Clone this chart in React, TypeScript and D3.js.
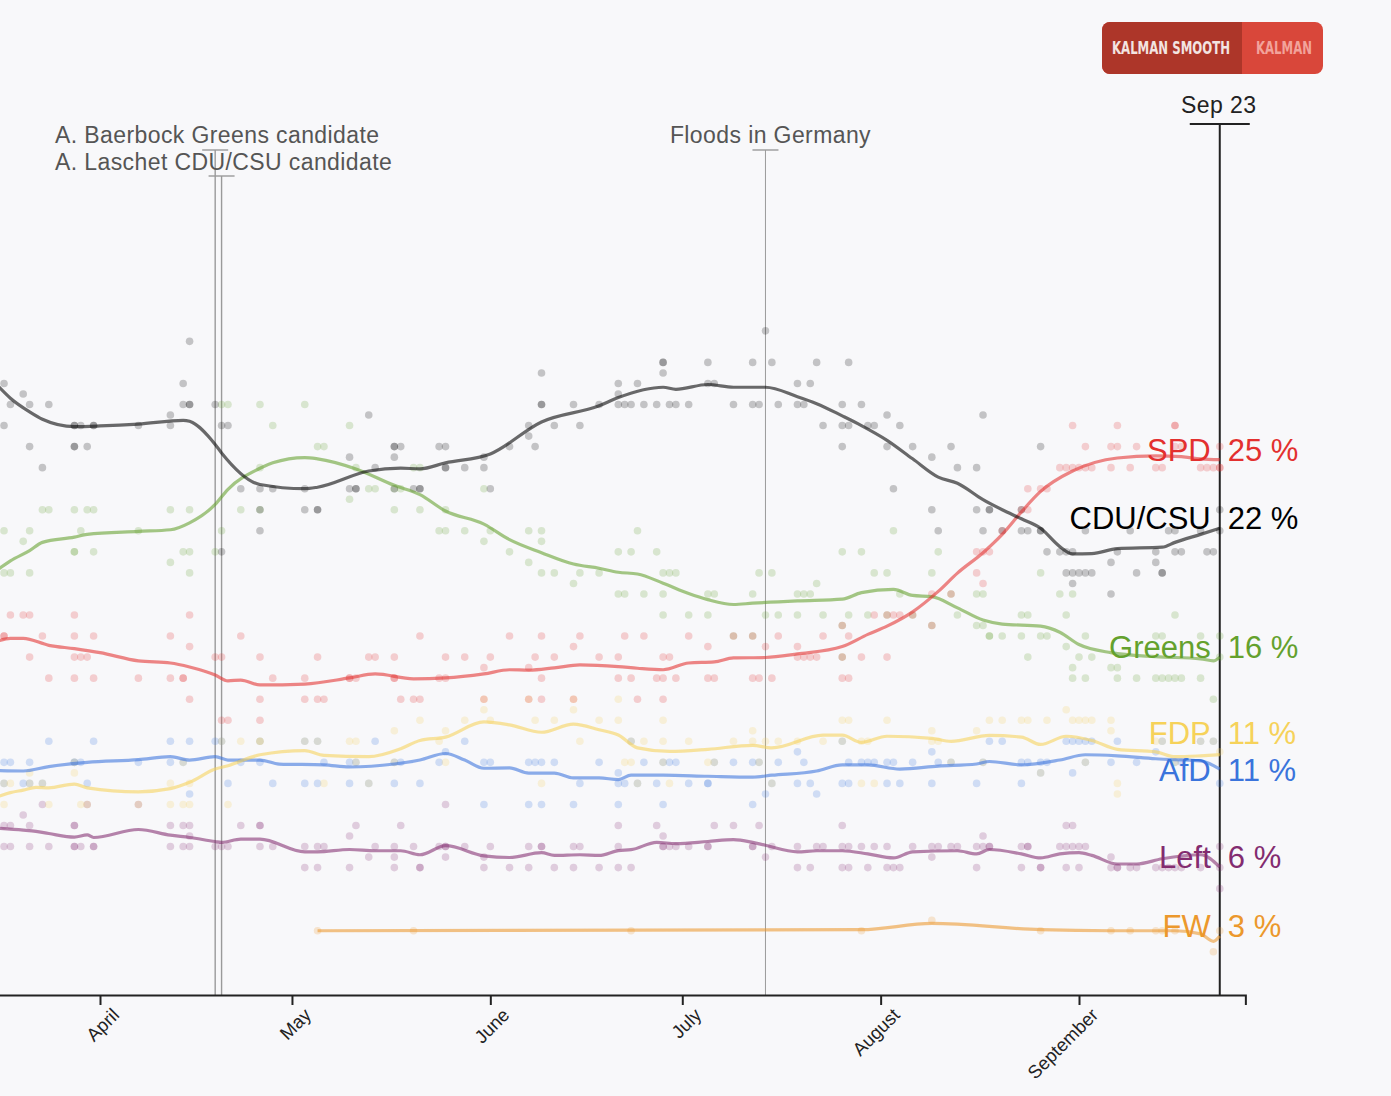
import * as d3 from "d3";
import { useEffect, useRef } from "react";

type Pt = [string, number];

// single polls, [date (2021), percent]
const cduPolls: Pt[] = [
  ["03-17", 29], ["03-17", 27], ["03-18", 28], ["03-20", 28.5], ["03-21", 28], ["03-21", 26], ["03-23", 25],
  ["03-24", 28], ["03-28", 27], ["03-28", 27], ["03-28", 26], ["03-28", 26], ["03-29", 27], ["03-30", 26],
  ["03-31", 27], ["03-31", 27], ["04-07", 27], ["04-12", 27.5], ["04-12", 27], ["04-14", 29], ["04-14", 28],
  ["04-15", 31], ["04-15", 28], ["04-15", 28], ["04-19", 28], ["04-20", 27], ["04-20", 21], ["04-21", 27],
  ["04-23", 24], ["04-26", 24], ["04-26", 23], ["04-26", 22], ["04-28", 24], ["05-03", 24], ["05-03", 23],
  ["05-05", 23], ["05-05", 23], ["05-10", 25.5], ["05-10", 24], ["05-11", 24], ["05-11", 24], ["05-13", 27.5],
  ["05-14", 25], ["05-17", 26], ["05-17", 26], ["05-17", 25.5], ["05-17", 24], ["05-18", 26], ["05-20", 24],
  ["05-21", 24], ["05-21", 24], ["05-24", 26], ["05-25", 26], ["05-25", 25], ["05-25", 25], ["05-28", 25],
  ["05-31", 25.5], ["05-31", 25], ["06-01", 24], ["06-04", 26], ["06-07", 27], ["06-07", 26.5], ["06-08", 26],
  ["06-09", 29.5], ["06-09", 28], ["06-09", 28], ["06-11", 27], ["06-14", 28], ["06-15", 27], ["06-18", 28],
  ["06-21", 29], ["06-21", 28.5], ["06-21", 28], ["06-22", 28], ["06-23", 28], ["06-24", 29], ["06-25", 28],
  ["06-27", 28], ["06-28", 30], ["06-28", 30], ["06-28", 29.5], ["06-29", 28], ["06-30", 28], ["07-02", 28],
  ["07-05", 30], ["07-05", 29], ["07-06", 29], ["07-09", 28], ["07-12", 30], ["07-12", 28], ["07-13", 28],
  ["07-14", 31.5], ["07-15", 30], ["07-16", 28], ["07-19", 29], ["07-19", 28], ["07-20", 28], ["07-21", 29],
  ["07-22", 30], ["07-23", 27], ["07-26", 28], ["07-26", 27], ["07-26", 26], ["07-27", 30], ["07-27", 27],
  ["07-29", 28], ["07-30", 27], ["07-31", 27], ["08-02", 27.5], ["08-02", 26], ["08-03", 24], ["08-04", 27],
  ["08-06", 26], ["08-09", 25.5], ["08-09", 23], ["08-10", 22], ["08-12", 26], ["08-13", 25], ["08-16", 25],
  ["08-16", 23], ["08-17", 27.5], ["08-17", 22], ["08-18", 23], ["08-18", 23], ["08-20", 22], ["08-23", 23],
  ["08-23", 22], ["08-24", 22], ["08-26", 26], ["08-26", 22], ["08-26", 22], ["08-27", 21], ["08-29", 21],
  ["08-30", 21], ["08-30", 20], ["08-31", 21], ["08-31", 20], ["08-31", 19.5], ["09-01", 20], ["09-02", 22],
  ["09-02", 20], ["09-03", 20], ["09-06", 20.5], ["09-06", 19], ["09-07", 21], ["09-09", 22], ["09-10", 20],
  ["09-13", 21], ["09-13", 20.5], ["09-14", 20], ["09-14", 20], ["09-15", 22], ["09-16", 22], ["09-16", 21],
  ["09-17", 21], ["09-20", 22], ["09-21", 21], ["09-22", 21], ["09-23", 23], ["09-23", 22],
];

const spdPolls: Pt[] = [
  ["03-17", 17], ["03-17", 17], ["03-18", 18], ["03-20", 18], ["03-21", 18], ["03-21", 16], ["03-23", 17],
  ["03-24", 15], ["03-28", 18], ["03-28", 17], ["03-28", 16], ["03-28", 15], ["03-29", 16], ["03-30", 16],
  ["03-31", 17], ["03-31", 15], ["04-07", 15], ["04-12", 17], ["04-12", 15], ["04-14", 15], ["04-14", 15],
  ["04-15", 18], ["04-15", 16.5], ["04-15", 14], ["04-19", 16], ["04-20", 16], ["04-20", 13], ["04-21", 13],
  ["04-23", 17], ["04-26", 16], ["04-26", 14], ["04-26", 13], ["04-28", 15], ["05-03", 15], ["05-03", 14],
  ["05-05", 16], ["05-05", 14], ["05-06", 14], ["05-10", 15], ["05-10", 15], ["05-11", 15], ["05-13", 16],
  ["05-14", 16], ["05-17", 16], ["05-17", 15], ["05-17", 15], ["05-18", 14], ["05-20", 14], ["05-21", 14],
  ["05-21", 17], ["05-24", 15], ["05-25", 15], ["05-25", 16], ["05-28", 16], ["05-31", 15.5], ["05-31", 14],
  ["06-01", 16], ["06-04", 17], ["06-07", 15.5], ["06-07", 14], ["06-08", 16], ["06-09", 17], ["06-09", 15],
  ["06-09", 14], ["06-11", 16], ["06-14", 16.5], ["06-14", 14], ["06-15", 17], ["06-18", 16], ["06-21", 16],
  ["06-21", 15], ["06-22", 17], ["06-23", 15], ["06-24", 14], ["06-25", 17], ["06-27", 15], ["06-28", 16],
  ["06-28", 15], ["06-28", 14], ["06-29", 16], ["06-30", 15], ["07-02", 17], ["07-05", 16.5], ["07-05", 15],
  ["07-06", 15], ["07-09", 17], ["07-12", 17], ["07-12", 15], ["07-13", 15], ["07-14", 16.5], ["07-15", 15],
  ["07-16", 17], ["07-19", 16.5], ["07-19", 16], ["07-20", 16], ["07-21", 16], ["07-22", 16], ["07-23", 17],
  ["07-26", 17.5], ["07-26", 16], ["07-26", 15], ["07-27", 17], ["07-27", 15], ["07-29", 16], ["07-31", 18],
  ["08-02", 18], ["08-02", 16], ["08-03", 18], ["08-04", 18], ["08-06", 18], ["08-09", 19], ["08-09", 17.5],
  ["08-12", 19], ["08-16", 21], ["08-16", 20], ["08-17", 21], ["08-17", 19.5], ["08-18", 21], ["08-20", 22],
  ["08-23", 23], ["08-24", 23], ["08-24", 24], ["08-26", 24], ["08-27", 24], ["08-29", 25], ["08-30", 25],
  ["08-31", 25], ["08-31", 27], ["09-01", 25], ["09-02", 25], ["09-02", 26], ["09-03", 25], ["09-06", 26],
  ["09-06", 25], ["09-07", 26], ["09-07", 27], ["09-09", 25], ["09-10", 26], ["09-13", 25], ["09-14", 25],
  ["09-16", 27], ["09-16", 27], ["09-16", 26], ["09-17", 26], ["09-20", 25], ["09-21", 25], ["09-22", 25],
  ["09-23", 25], ["09-23", 25], ["09-23", 26],
];

const greensPolls: Pt[] = [
  ["03-17", 22], ["03-17", 20], ["03-18", 20], ["03-20", 21.5], ["03-21", 22], ["03-21", 20], ["03-23", 23],
  ["03-24", 23], ["03-28", 23], ["03-28", 21], ["03-28", 21], ["03-29", 22], ["03-30", 23], ["03-31", 23],
  ["03-31", 21], ["04-07", 22], ["04-12", 23], ["04-12", 20.5], ["04-14", 21], ["04-15", 23], ["04-15", 21],
  ["04-15", 20], ["04-19", 21], ["04-20", 28], ["04-20", 22], ["04-21", 28], ["04-23", 23], ["04-26", 28],
  ["04-26", 25], ["04-26", 23], ["04-28", 27], ["05-03", 28], ["05-05", 26], ["05-06", 26], ["05-10", 27],
  ["05-10", 23.5], ["05-11", 25], ["05-13", 24], ["05-14", 24], ["05-17", 24], ["05-17", 23], ["05-18", 24],
  ["05-20", 25], ["05-21", 25], ["05-21", 23], ["05-24", 22], ["05-25", 23], ["05-25", 22], ["05-28", 22],
  ["05-31", 24], ["05-31", 21.5], ["06-01", 22], ["06-04", 21], ["06-07", 22], ["06-07", 20.5], ["06-09", 22],
  ["06-09", 21.5], ["06-09", 20], ["06-11", 20], ["06-14", 19.5], ["06-15", 20], ["06-18", 20], ["06-21", 21],
  ["06-21", 19], ["06-22", 19], ["06-23", 21], ["06-24", 22], ["06-25", 19], ["06-27", 21], ["06-28", 20],
  ["06-28", 19], ["06-28", 18], ["06-29", 20], ["06-30", 20], ["07-02", 18], ["07-05", 19], ["07-05", 18],
  ["07-06", 19], ["07-09", 17], ["07-12", 19], ["07-12", 17], ["07-13", 20], ["07-14", 18], ["07-15", 20],
  ["07-16", 18], ["07-19", 19], ["07-19", 18], ["07-20", 19], ["07-21", 19], ["07-22", 19.5], ["07-23", 18],
  ["07-26", 21], ["07-26", 17.5], ["07-26", 16], ["07-27", 18], ["07-29", 21], ["07-30", 18], ["07-31", 20],
  ["08-02", 20], ["08-02", 18], ["08-03", 22], ["08-04", 19], ["08-06", 18], ["08-09", 20], ["08-09", 17.5],
  ["08-10", 21], ["08-12", 19], ["08-13", 18], ["08-16", 19], ["08-16", 17.5], ["08-17", 19], ["08-17", 17.5],
  ["08-18", 17], ["08-18", 17], ["08-20", 17], ["08-23", 18], ["08-23", 17], ["08-24", 18], ["08-24", 16],
  ["08-26", 20], ["08-26", 17], ["08-27", 17], ["08-29", 19], ["08-30", 18], ["08-30", 16.5], ["08-31", 19],
  ["08-31", 15.5], ["08-31", 15], ["09-01", 16], ["09-02", 17], ["09-02", 15], ["09-03", 16], ["09-06", 15.5],
  ["09-07", 15.5], ["09-07", 15], ["09-10", 15], ["09-13", 17], ["09-13", 15], ["09-14", 17], ["09-14", 15],
  ["09-15", 15], ["09-16", 18], ["09-16", 15], ["09-17", 15], ["09-20", 17], ["09-20", 15], ["09-22", 14],
  ["09-23", 17], ["09-23", 16],
];

const fdpPolls: Pt[] = [
  ["03-17", 10], ["03-17", 9], ["03-18", 10], ["03-21", 10.5], ["03-21", 10], ["03-23", 10], ["03-24", 9],
  ["03-28", 11], ["03-28", 10.5], ["03-29", 9], ["03-30", 9], ["04-07", 9], ["04-12", 10], ["04-12", 9],
  ["04-14", 11], ["04-14", 9], ["04-15", 10], ["04-15", 9], ["04-20", 12], ["04-21", 9], ["04-23", 12],
  ["04-26", 12], ["04-26", 12], ["05-03", 12], ["05-05", 12], ["05-06", 10], ["05-10", 12], ["05-11", 12],
  ["05-11", 11], ["05-13", 10], ["05-17", 12.5], ["05-17", 11], ["05-21", 13], ["05-24", 12], ["05-25", 12.5],
  ["05-25", 11], ["05-28", 13], ["05-31", 13.5], ["05-31", 14], ["06-01", 13], ["06-07", 14], ["06-08", 13],
  ["06-09", 10], ["06-11", 13], ["06-14", 13.5], ["06-14", 14], ["06-15", 12], ["06-18", 13], ["06-21", 14],
  ["06-21", 13], ["06-22", 11], ["06-23", 12], ["06-23", 11], ["06-24", 10], ["06-25", 12], ["06-28", 13],
  ["06-28", 12], ["06-28", 11], ["06-29", 10], ["07-02", 12], ["07-05", 11], ["07-06", 11], ["07-09", 12],
  ["07-12", 12.5], ["07-12", 12], ["07-13", 11], ["07-14", 12], ["07-15", 10], ["07-16", 12], ["07-19", 12],
  ["07-23", 12], ["07-26", 13], ["07-26", 12], ["07-27", 13], ["07-29", 12], ["07-29", 10], ["07-30", 12],
  ["07-31", 10], ["08-02", 13], ["08-09", 12.5], ["08-09", 12], ["08-10", 12], ["08-12", 11], ["08-16", 12.5],
  ["08-17", 11], ["08-18", 13], ["08-20", 13], ["08-23", 13], ["08-24", 13], ["08-26", 10.5], ["08-27", 13],
  ["08-30", 13.5], ["08-31", 13], ["09-01", 13], ["09-02", 13], ["09-02", 11], ["09-03", 13], ["09-06", 13],
  ["09-06", 12.5], ["09-07", 10], ["09-07", 9.5], ["09-13", 12], ["09-14", 12], ["09-16", 11], ["09-20", 12],
  ["09-22", 12], ["09-23", 11.5],
];

const afdPolls: Pt[] = [
  ["03-17", 11], ["03-17", 10], ["03-18", 11], ["03-20", 10], ["03-21", 11], ["03-21", 10], ["03-23", 10],
  ["03-24", 12], ["03-28", 11], ["03-28", 11], ["03-29", 11], ["03-30", 10], ["03-31", 12], ["04-07", 11],
  ["04-12", 12], ["04-12", 11], ["04-14", 11], ["04-15", 12], ["04-15", 9.5], ["04-19", 12], ["04-20", 12],
  ["04-21", 10], ["04-23", 11], ["04-26", 12], ["04-26", 11], ["04-28", 10], ["05-03", 12], ["05-03", 10],
  ["05-05", 12], ["05-05", 10], ["05-06", 11], ["05-10", 11], ["05-10", 10], ["05-11", 11], ["05-13", 10],
  ["05-14", 12], ["05-17", 11], ["05-17", 10], ["05-18", 11], ["05-21", 10], ["05-24", 11], ["05-25", 11.5],
  ["05-28", 12], ["05-31", 11], ["05-31", 9], ["06-01", 11], ["06-07", 11], ["06-07", 9], ["06-08", 11],
  ["06-09", 11], ["06-09", 9], ["06-11", 11], ["06-14", 9], ["06-15", 10], ["06-18", 11], ["06-21", 10.5],
  ["06-21", 10], ["06-21", 9], ["06-22", 10], ["06-23", 12], ["06-24", 10], ["06-25", 11], ["06-27", 10],
  ["06-28", 11], ["06-28", 9], ["06-29", 11], ["06-30", 11], ["07-02", 10], ["07-05", 10], ["07-05", 10],
  ["07-06", 11], ["07-09", 11], ["07-12", 11], ["07-12", 9], ["07-13", 11], ["07-14", 9.5], ["07-15", 10],
  ["07-16", 11], ["07-19", 11.5], ["07-19", 10], ["07-20", 11], ["07-21", 10], ["07-22", 9.5], ["07-26", 12],
  ["07-26", 10], ["07-27", 11], ["07-27", 10], ["07-29", 11], ["07-30", 11], ["07-31", 11], ["08-02", 11],
  ["08-02", 10], ["08-03", 11], ["08-04", 10], ["08-06", 11], ["08-09", 11.5], ["08-09", 10], ["08-10", 11],
  ["08-12", 11], ["08-16", 10], ["08-17", 11], ["08-18", 12], ["08-20", 12], ["08-23", 11], ["08-23", 10],
  ["08-24", 11], ["08-26", 11], ["08-26", 10.5], ["08-27", 11], ["08-30", 12], ["08-31", 12], ["08-31", 10.5],
  ["09-01", 12], ["09-02", 12], ["09-02", 11], ["09-03", 12], ["09-06", 11], ["09-07", 12], ["09-10", 11],
  ["09-13", 11.5], ["09-14", 12], ["09-16", 11], ["09-17", 11], ["09-20", 12], ["09-22", 12], ["09-23", 10],
];

const leftPolls: Pt[] = [
  ["03-17", 8], ["03-17", 7], ["03-18", 8], ["03-18", 7], ["03-20", 8.5], ["03-21", 8], ["03-21", 7],
  ["03-23", 9], ["03-24", 7], ["03-28", 8], ["03-28", 8], ["03-28", 7], ["03-28", 7], ["03-29", 7],
  ["03-30", 9], ["03-31", 7], ["03-31", 7], ["04-07", 9], ["04-12", 8], ["04-12", 7], ["04-14", 8],
  ["04-14", 7], ["04-15", 8], ["04-15", 7.5], ["04-15", 7], ["04-19", 7], ["04-20", 7], ["04-21", 7],
  ["04-23", 8], ["04-26", 8], ["04-26", 8], ["04-26", 7], ["04-28", 7], ["05-03", 7], ["05-03", 6],
  ["05-05", 7], ["05-05", 6], ["05-06", 7], ["05-10", 7.5], ["05-10", 6], ["05-11", 8], ["05-13", 6.5],
  ["05-14", 7], ["05-17", 7], ["05-17", 6.5], ["05-17", 6], ["05-18", 8], ["05-20", 7], ["05-21", 6],
  ["05-21", 6], ["05-24", 7], ["05-25", 9], ["05-25", 7], ["05-25", 7], ["05-25", 6.5], ["05-28", 7],
  ["05-31", 6.5], ["05-31", 6], ["06-01", 7], ["06-04", 6], ["06-07", 7], ["06-07", 6], ["06-09", 7],
  ["06-09", 7], ["06-11", 6], ["06-14", 7], ["06-14", 6], ["06-15", 7], ["06-18", 6], ["06-21", 8],
  ["06-21", 7], ["06-21", 6], ["06-23", 6], ["06-27", 8], ["06-28", 7.5], ["06-28", 7], ["06-28", 7],
  ["06-29", 7], ["06-30", 7], ["07-02", 7], ["07-05", 7], ["07-05", 7], ["07-06", 8], ["07-09", 8],
  ["07-12", 7], ["07-12", 7], ["07-13", 8], ["07-14", 6.5], ["07-15", 7], ["07-19", 7], ["07-19", 6],
  ["07-21", 6], ["07-22", 7], ["07-23", 7], ["07-26", 8], ["07-26", 7], ["07-26", 6], ["07-27", 7],
  ["07-27", 6], ["07-29", 7], ["07-30", 6], ["07-31", 7], ["08-02", 7], ["08-02", 6], ["08-03", 6],
  ["08-04", 6], ["08-06", 7], ["08-09", 7], ["08-09", 6.5], ["08-10", 7], ["08-12", 7], ["08-13", 7],
  ["08-16", 7], ["08-16", 6], ["08-17", 7.5], ["08-17", 7], ["08-18", 7], ["08-18", 7], ["08-23", 7],
  ["08-23", 6], ["08-24", 7], ["08-24", 7], ["08-26", 6], ["08-26", 6], ["08-29", 7], ["08-30", 8],
  ["08-30", 7], ["08-30", 6], ["08-31", 8], ["08-31", 7], ["09-01", 7], ["09-01", 6], ["09-02", 7],
  ["09-06", 6.5], ["09-06", 6], ["09-07", 6], ["09-07", 6], ["09-09", 6], ["09-10", 6], ["09-13", 6],
  ["09-14", 6], ["09-15", 6], ["09-16", 6], ["09-17", 6], ["09-20", 6], ["09-23", 7], ["09-23", 6],
  ["09-23", 5],
];

const fwPolls: Pt[] = [
  ["05-05", 3], ["05-20", 3], ["06-23", 3], ["07-29", 3], ["08-09", 3.5], ["08-26", 3], ["09-06", 3],
  ["09-09", 3], ["09-13", 3], ["09-14", 3], ["09-16", 3], ["09-22", 2], ["09-23", 3],
];

// Kalman smoothed trend
const cduTrend: Pt[] = [
  ["03-16", 28.9], ["03-18", 28.3], ["03-21", 27.65], ["03-23", 27.3], ["03-28", 26.95], ["04-01", 26.98],
  ["04-07", 27.07], ["04-14", 27.25], ["04-15", 27.2], ["04-19", 26.1], ["04-20", 25.7], ["04-26", 24.2],
  ["05-03", 24.0], ["05-05", 24.07], ["05-13", 24.84], ["05-18", 24.98], ["05-21", 24.94], ["05-25", 25.23],
  ["06-01", 25.65], ["06-09", 27.17], ["06-18", 27.94], ["06-21", 28.33], ["06-28", 28.82], ["06-30", 28.72],
  ["07-05", 28.95], ["07-09", 28.82], ["07-14", 28.82], ["07-19", 28.37], ["07-22", 28.04], ["07-26", 27.46],
  ["07-29", 27.0], ["08-02", 26.3], ["08-06", 25.42], ["08-10", 24.55], ["08-13", 24.26], ["08-17", 23.48],
  ["08-20", 23.0], ["08-23", 22.57], ["08-26", 22.12], ["08-29", 21.25], ["08-31", 20.9], ["09-03", 20.92],
  ["09-07", 21.15], ["09-14", 21.22], ["09-16", 21.45], ["09-20", 21.83], ["09-23", 22.12],
];

const spdTrend: Pt[] = [
  ["03-16", 16.76], ["03-18", 16.89], ["03-20", 16.89], ["03-24", 16.56], ["03-28", 16.4], ["04-01", 16.21],
  ["04-07", 15.82], ["04-12", 15.72], ["04-15", 15.53], ["04-19", 15.15], ["04-21", 14.87], ["04-23", 14.91],
  ["04-26", 14.68], ["05-03", 14.72], ["05-10", 15.01], ["05-14", 15.2], ["05-20", 14.97], ["05-25", 15.01],
  ["05-31", 15.2], ["06-04", 15.4], ["06-07", 15.38], ["06-11", 15.49], ["06-15", 15.63], ["06-21", 15.55],
  ["06-24", 15.47], ["06-28", 15.4], ["07-02", 15.72], ["07-06", 15.77], ["07-09", 15.96], ["07-14", 15.98],
  ["07-19", 16.15], ["07-26", 16.5], ["07-30", 17.08], ["08-02", 17.47], ["08-06", 18.15], ["08-10", 19.12],
  ["08-13", 19.99], ["08-17", 20.96], ["08-20", 21.83], ["08-23", 22.9], ["08-26", 23.87], ["08-31", 24.84],
  ["09-07", 25.46], ["09-13", 25.56], ["09-17", 25.52], ["09-20", 25.42], ["09-23", 25.38],
];

const greensTrend: Pt[] = [
  ["03-16", 20.15], ["03-18", 20.57], ["03-21", 21.06], ["03-23", 21.45], ["03-28", 21.7], ["03-30", 21.83],
  ["04-07", 21.97], ["04-12", 22.05], ["04-15", 22.38], ["04-19", 23.25], ["04-21", 23.97], ["04-26", 24.97],
  ["04-28", 25.23], ["05-03", 25.48], ["05-05", 25.42], ["05-11", 24.94], ["05-17", 24.16], ["05-21", 23.72],
  ["05-25", 22.94], ["05-31", 22.32], ["06-04", 21.58], ["06-09", 20.96], ["06-14", 20.42], ["06-18", 20.22],
  ["06-21", 20.03], ["06-24", 19.95], ["06-28", 19.51], ["07-02", 19.02], ["07-05", 18.73], ["07-09", 18.5],
  ["07-12", 18.56], ["07-19", 18.67], ["07-26", 18.75], ["07-29", 19.06], ["08-03", 19.22], ["08-06", 18.93],
  ["08-09", 18.87], ["08-13", 18.34], ["08-17", 17.76], ["08-20", 17.57], ["08-26", 17.47], ["08-29", 17.18],
  ["09-01", 16.6], ["09-06", 16.21], ["09-13", 16.02], ["09-20", 15.92], ["09-22", 15.82], ["09-23", 16.0],
];

const fdpTrend: Pt[] = [
  ["03-16", 9.37], ["03-18", 9.56], ["03-20", 9.68], ["03-22", 9.81], ["03-24", 9.79], ["03-28", 9.97],
  ["03-30", 9.79], ["04-07", 9.6], ["04-12", 9.75], ["04-15", 10.05], ["04-19", 10.68], ["04-21", 10.84],
  ["04-26", 11.36], ["05-03", 11.56], ["05-06", 11.33], ["05-13", 11.27], ["05-18", 11.65], ["05-21", 12.04],
  ["05-25", 12.2], ["05-31", 12.92], ["06-04", 12.78], ["06-09", 12.43], ["06-14", 12.82], ["06-18", 12.55],
  ["06-21", 12.3], ["06-24", 11.69], ["06-29", 11.52], ["07-05", 11.62], ["07-12", 11.81], ["07-15", 11.69],
  ["07-23", 12.29], ["07-26", 12.29], ["07-29", 11.95], ["08-02", 12.24], ["08-09", 12.14], ["08-12", 12.0],
  ["08-18", 12.28], ["08-23", 12.2], ["08-26", 11.85], ["08-30", 12.24], ["09-03", 12.04], ["09-07", 11.62],
  ["09-13", 11.5], ["09-16", 11.27], ["09-20", 11.31], ["09-23", 11.36],
];

const afdTrend: Pt[] = [
  ["03-16", 10.61], ["03-20", 10.59], ["03-24", 10.8], ["03-30", 11.0], ["04-07", 11.13], ["04-12", 11.27],
  ["04-15", 11.11], ["04-19", 11.27], ["04-21", 11.11], ["04-26", 11.11], ["04-29", 10.92], ["05-06", 10.88],
  ["05-10", 10.78], ["05-17", 10.92], ["05-21", 11.11], ["05-25", 11.42], ["05-28", 11.11], ["05-31", 10.72],
  ["06-04", 10.74], ["06-07", 10.49], ["06-11", 10.49], ["06-14", 10.26], ["06-18", 10.26], ["06-21", 10.18],
  ["06-23", 10.39], ["06-28", 10.39], ["07-05", 10.34], ["07-12", 10.3], ["07-15", 10.39], ["07-22", 10.59],
  ["07-26", 10.88], ["07-30", 10.88], ["08-04", 10.68], ["08-10", 10.82], ["08-16", 10.92], ["08-18", 11.04],
  ["08-23", 10.88], ["08-29", 11.11], ["09-02", 11.36], ["09-07", 11.31], ["09-13", 11.17], ["09-20", 11.07],
  ["09-23", 10.68],
];

const leftTrend: Pt[] = [
  ["03-16", 7.87], ["03-20", 7.78], ["03-22", 7.72], ["03-24", 7.62], ["03-28", 7.45], ["03-30", 7.55],
  ["03-31", 7.43], ["04-07", 7.81], ["04-12", 7.54], ["04-15", 7.43], ["04-19", 7.24], ["04-20", 7.2],
  ["04-23", 7.35], ["04-26", 7.35], ["05-03", 6.75], ["05-05", 6.75], ["05-10", 6.86], ["05-14", 6.8],
  ["05-18", 6.8], ["05-21", 6.61], ["05-25", 7.04], ["05-31", 6.56], ["06-04", 6.48], ["06-09", 6.71],
  ["06-11", 6.58], ["06-15", 6.61], ["06-18", 6.58], ["06-21", 6.81], ["06-23", 6.85], ["06-27", 7.2],
  ["06-30", 7.14], ["07-05", 7.24], ["07-09", 7.33], ["07-12", 7.2], ["07-14", 7.06], ["07-19", 6.75],
  ["07-22", 6.8], ["07-26", 6.8], ["07-30", 6.65], ["08-03", 6.46], ["08-06", 6.75], ["08-13", 6.8],
  ["08-16", 6.65], ["08-18", 6.86], ["08-23", 6.65], ["08-26", 6.46], ["08-29", 6.65], ["09-01", 6.71],
  ["09-03", 6.58], ["09-07", 6.17], ["09-10", 6.17], ["09-14", 6.42], ["09-20", 6.61], ["09-23", 6.03],
];

const fwTrend: Pt[] = [
  ["05-05", 3.0], ["07-29", 3.05], ["08-09", 3.35], ["08-26", 3.05], ["09-06", 3.0], ["09-16", 3.0],
  ["09-20", 2.85], ["09-22", 2.5], ["09-23", 2.75],
];

const eventDates = ["04-19", "04-20", "07-14"];
const eventLabels = ["A. Baerbock Greens candidate", "A. Laschet CDU/CSU candidate", "Floods in Germany"];
const lastPollDate = "09-23";
const lastPollLabel = "Sep 23";
const buttonLabels = ["KALMAN SMOOTH", "KALMAN"];

const parties = [
  { name: "FW", color: "#ec982c", polls: fwPolls, trend: fwTrend },
  { name: "Left", color: "#832c70", polls: leftPolls, trend: leftTrend },
  { name: "AfD", color: "#3a74dc", polls: afdPolls, trend: afdTrend },
  { name: "FDP", color: "#f6d25a", polls: fdpPolls, trend: fdpTrend },
  { name: "Greens", color: "#64a12d", polls: greensPolls, trend: greensTrend },
  { name: "SPD", color: "#e3302f", polls: spdPolls, trend: spdTrend },
  { name: "CDU/CSU", color: "#000000", polls: cduPolls, trend: cduTrend },
];

const W = 1391;
const H = 1096;
const FONT = "'Helvetica Neue', Helvetica, Arial, 'Liberation Sans', sans-serif";
const parse = (s: string) => d3.timeParse("%Y-%m-%d")("2021-" + s) as Date;

const x = d3.scaleTime().domain([parse("04-01"), parse("09-01")]).range([100, 1079]);
const y = d3.scaleLinear().domain([0, 30]).range([993.9, 362.4]);
const axisY = 995;
const axisEnd = parse("09-27");

export default function App() {
  const axisRef = useRef<SVGGElement>(null);

  useEffect(() => {
    const xa = x.copy().domain([x.invert(-30), axisEnd]).range([-30, x(axisEnd)]);
    const g = d3.select(axisRef.current);
    g.selectAll("*").remove();
    g.call(
      d3
        .axisBottom(xa)
        .tickValues(d3.timeMonth.range(parse("04-01"), parse("09-02")))
        .tickFormat(d3.timeFormat("%B") as any)
        .tickSize(10)
        .tickSizeOuter(10)
    );
    g.select(".domain").attr("stroke", "#222").attr("stroke-width", 2);
    g.selectAll(".tick line").attr("stroke", "#222").attr("stroke-width", 2);
    g.selectAll(".tick text")
      .attr("fill", "#222")
      .attr("font-size", 18.5)
      .attr("font-family", FONT)
      .attr("x", -1)
      .attr("y", 29)
      .attr("dy", 0)
      .attr("text-anchor", "end")
      .attr("transform", "rotate(-45)");
  }, []);

  const line = d3
    .line<Pt>()
    .x((d) => x(parse(d[0])))
    .y((d) => y(d[1]))
    .curve(d3.curveMonotoneX);

  // end labels, pushed apart where they would collide
  const labels = parties.map((p) => {
    const last = p.trend[p.trend.length - 1][1];
    return { name: p.name, color: p.color, value: Math.round(last), y: y(last) };
  });
  const sorted = [...labels].sort((a, b) => a.y - b.y);
  for (let it = 0; it < 30; it++) {
    for (let i = 1; i < sorted.length; i++) {
      const gap = sorted[i].y - sorted[i - 1].y;
      if (gap < 37) {
        const s = (37 - gap) / 2;
        sorted[i - 1].y -= s;
        sorted[i].y += s;
      }
    }
  }

  const xLast = x(parse(lastPollDate));
  const ev = eventDates.map((d) => x(parse(d)));

  return (
    <div style={{ position: "fixed", left: 0, top: 0, width: W, height: H, background: "#f8f8fa" }}>
      <svg width={W} height={H} style={{ display: "block" }}>
        <rect width={W} height={H} fill="#f8f8fa" />

        {/* events */}
        <g stroke="#9a9a9a" strokeWidth={1.4} fill="none">
          <line x1={ev[0]} x2={ev[0]} y1={150} y2={axisY} />
          <line x1={ev[0] - 13} x2={ev[0] + 13} y1={150} y2={150} />
          <line x1={ev[1]} x2={ev[1]} y1={176} y2={axisY} />
          <line x1={ev[1] - 13} x2={ev[1] + 13} y1={176} y2={176} />
          <line x1={ev[2]} x2={ev[2]} y1={150} y2={axisY} strokeWidth={1} />
          <line x1={ev[2] - 13} x2={ev[2] + 13} y1={150} y2={150} />
        </g>
        <g fill="#555" fontFamily={FONT} fontSize={23} letterSpacing={0.4}>
          <text x={55} y={143}>{eventLabels[0]}</text>
          <text x={55} y={170}>{eventLabels[1]}</text>
          <text x={ev[2] + 5} y={143} textAnchor="middle">{eventLabels[2]}</text>
        </g>

        {/* last poll marker */}
        <line x1={xLast} x2={xLast} y1={124} y2={axisY} stroke="#222" strokeWidth={2} />
        <line x1={xLast - 30} x2={xLast + 30} y1={124} y2={124} stroke="#222" strokeWidth={2} />
        <text x={xLast - 1} y={113} textAnchor="middle" fontFamily={FONT} fontSize={23} letterSpacing={0.4} fill="#222">
          {lastPollLabel}
        </text>

        {/* polls */}
        {parties.map((p) => (
          <g key={p.name + "-dots"} fill={p.color} fillOpacity={0.21}>
            {p.polls.map((d, i) => (
              <circle key={i} cx={x(parse(d[0]))} cy={y(d[1])} r={3.8} />
            ))}
          </g>
        ))}

        {/* trends */}
        {parties.map((p) => (
          <path
            key={p.name + "-line"}
            d={line(p.trend) || ""}
            fill="none"
            stroke={p.color}
            strokeOpacity={0.58}
            strokeWidth={3.2}
            strokeLinejoin="round"
          />
        ))}

        {/* end labels */}
        <g fontFamily={FONT} fontSize={31}>
          {labels.map((l) => (
            <g key={l.name + "-label"} fill={l.color}>
              <text x={xLast - 9} y={l.y + 1} textAnchor="end">{l.name}</text>
              <text x={xLast + 8} y={l.y + 1}>{l.value} %</text>
            </g>
          ))}
        </g>

        <g ref={axisRef} transform={`translate(0,${axisY})`} />

        {/* smoothing switch */}
        <g fontFamily="'DejaVu Sans Condensed', 'DejaVu Sans', sans-serif" fontWeight="bold">
          <rect x={1102} y={22} width={221} height={52} rx={8} fill="#d9473a" />
          <path d="M1242,22 H1110 A8,8 0 0 0 1102,30 V66 A8,8 0 0 0 1110,74 H1242 Z" fill="#ad3629" />
          <g transform="translate(1112,54) scale(1,1.18)">
            <text x={0} y={0} fontSize={15} fill="#f3e4e1" textLength={118} lengthAdjust="spacingAndGlyphs">
              {buttonLabels[0]}
            </text>
          </g>
          <g transform="translate(1256,54) scale(1,1.18)">
            <text x={0} y={0} fontSize={15} fill="#f2a39b" textLength={56} lengthAdjust="spacingAndGlyphs">
              {buttonLabels[1]}
            </text>
          </g>
        </g>
      </svg>
    </div>
  );
}
